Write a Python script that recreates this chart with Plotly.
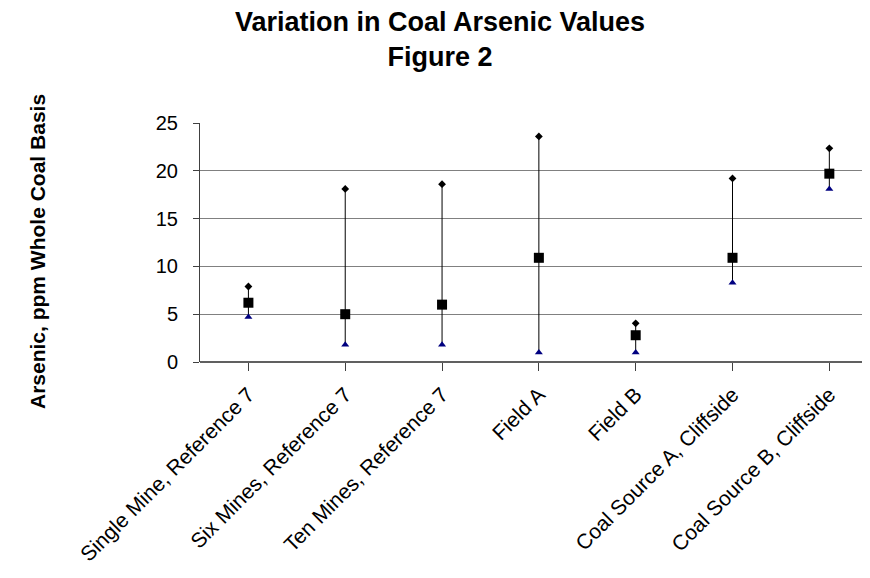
import plotly.graph_objects as go

categories = ["Single Mine, Reference 7", "Six Mines, Reference 7", "Ten Mines, Reference 7",
              "Field A", "Field B", "Coal Source A, Cliffside", "Coal Source B, Cliffside"]
high_vals = [7.9, 18.1, 18.6, 23.6, 4.05, 19.2, 22.35]
avg_vals = [6.2, 5.0, 6.0, 10.9, 2.8, 10.9, 19.7]
low_vals = [4.7, 1.8, 1.8, 1.0, 1.0, 8.3, 18.1]
y_ticks = [0, 5, 10, 15, 20, 25]

idx = list(range(len(categories)))

line_x, line_y = [], []
for i, h, l in zip(idx, high_vals, low_vals):
    line_x += [i, i, None]
    line_y += [h, l, None]

fig = go.Figure()
fig.add_trace(go.Scatter(x=line_x, y=line_y, mode="lines",
                         line=dict(color="black", width=1), hoverinfo="skip", showlegend=False))
fig.add_trace(go.Scatter(x=idx, y=high_vals, mode="markers",
                         marker=dict(symbol="diamond", size=6, color="black"), showlegend=False))
fig.add_trace(go.Scatter(x=idx, y=low_vals, mode="markers",
                         marker=dict(symbol="triangle-up", size=7, color="#000080"), showlegend=False))
fig.add_trace(go.Scatter(x=idx, y=avg_vals, mode="markers",
                         marker=dict(symbol="square", size=10, color="black"), showlegend=False))

FONT = "Arial, Liberation Sans, sans-serif"
# page body has an 8px margin; figure sized to fit the window without scrollbars
fig.update_layout(
    width=862, height=562,
    margin=dict(l=192, r=0, t=115, b=208),
    paper_bgcolor="white", plot_bgcolor="white",
    font=dict(family=FONT, color="black"),
    title=dict(text="<b>Variation in Coal Arsenic Values<br>Figure 2</b>",
               x=432 / 862, xanchor="center", y=1 - 23 / 562, yanchor="middle",
               font=dict(size=27, family=FONT)),
    xaxis=dict(range=[-0.5, 6.42], tickmode="array", tickvals=idx, ticktext=categories,
               tickangle=-45, tickson="boundaries", ticks="outside", ticklen=8,
               tickcolor="#404040", showgrid=False, showline=False, zeroline=False,
               automargin=False, ticklabelstandoff=3,
               tickfont=dict(size=21)),
    yaxis=dict(range=[0, 25], tickmode="array", tickvals=y_ticks, ticks="outside",
               ticklen=6, tickcolor="#404040", showline=True, linecolor="#404040",
               showgrid=True, gridcolor="#808080", gridwidth=1, zeroline=True,
               zerolinecolor="#606060", automargin=False, ticklabelstandoff=11,
               tickfont=dict(size=20)),
    annotations=[dict(text="<b>Arsenic, ppm Whole Coal Basis</b>", textangle=-90,
                      xref="paper", yref="paper", x=-(192 - 29) / 670, y=(354 - 244) / 239,
                      xanchor="center", yanchor="middle", showarrow=False,
                      font=dict(size=21))],
)

fig.write_html("out.html")
